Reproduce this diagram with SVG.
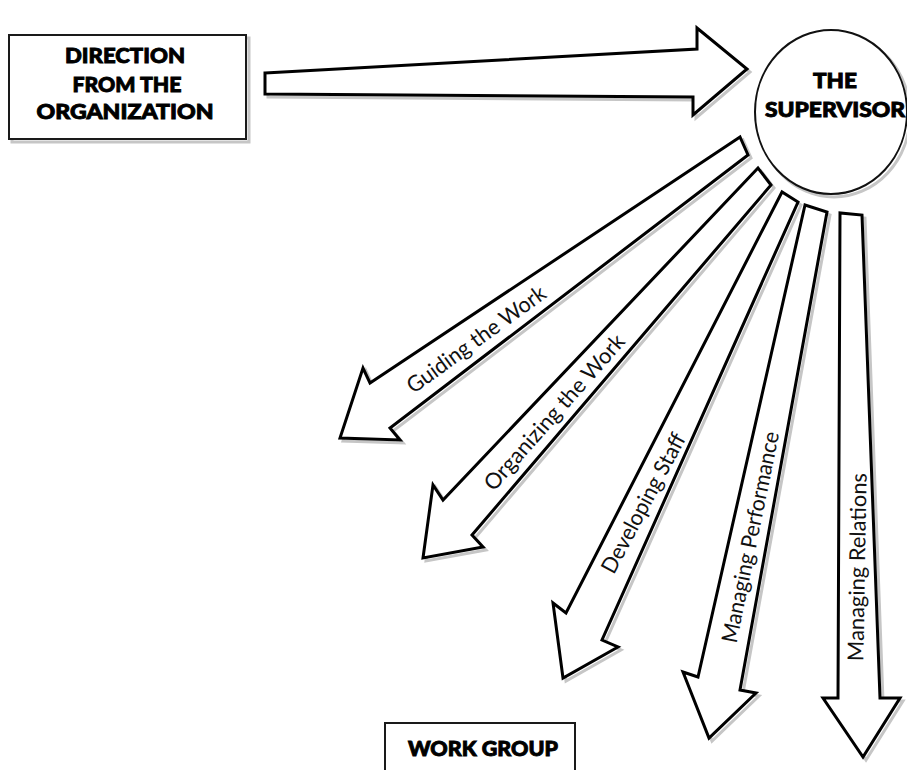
<svg xmlns="http://www.w3.org/2000/svg" xmlns:xlink="http://www.w3.org/1999/xlink" width="907" height="770" viewBox="0 0 907 770">
<style>
.bg{fill:#ffffff}
.box{fill:#ffffff;stroke:#1a1a1a;stroke-width:2}
.arr{fill:#ffffff;stroke:#000000;stroke-width:3;stroke-linejoin:miter}
.sh{fill:none;stroke:#c6c6c6;stroke-width:3}
.title{font-family:Lato,"Open Sans","DejaVu Sans",sans-serif;font-weight:900;font-size:21px;fill:#000;stroke:#000;stroke-width:0.9;text-anchor:middle}
.lbl{font-family:Lato,"Open Sans","DejaVu Sans",sans-serif;font-weight:400;font-size:22px;fill:#111;text-anchor:middle}
</style>
<rect class="bg" x="0" y="0" width="907" height="770"/>
<defs>
<polygon id="p0" points="265,73 697,49 697,28 747,69 693,115 693,97 265,94"/>
<polygon id="p1" points="740,137 370,383 363,368 340,438 400,440 390,428 748,155"/>
<polygon id="p2" points="758,168 443,500 433,485 423,558 483,547 472,535 771,185"/>
<polygon id="p3" points="782,192 566,613 553,603 563,678 618,647 602,640 798,202"/>
<polygon id="p4" points="805,205 698,677 683,672 709,738 756,693 740,690 827,212"/>
<polygon id="p5" points="840,213 838,698 823,698 863,757 900,698 880,698 862,215"/>
</defs>
<g id="shadows" transform="translate(3,3)">
<use href="#p0" xlink:href="#p0" class="sh"/>
<use href="#p1" xlink:href="#p1" class="sh"/>
<use href="#p2" xlink:href="#p2" class="sh"/>
<use href="#p3" xlink:href="#p3" class="sh"/>
<use href="#p4" xlink:href="#p4" class="sh"/>
<use href="#p5" xlink:href="#p5" class="sh"/>
<rect x="9" y="35" width="237" height="104" class="sh"/>
<ellipse cx="831" cy="112" rx="76" ry="82" class="sh"/>
</g>
<g id="connectors">
<g id="arrow-direction"><use href="#p0" xlink:href="#p0" class="arr"/></g>
<g id="arrow-guiding">
<use href="#p1" xlink:href="#p1" class="arr"/>
<g transform="translate(476,339) rotate(-36)"><text class="lbl" x="0" y="8" textLength="166" lengthAdjust="spacingAndGlyphs">Guiding the Work</text></g>
</g>
<g id="arrow-organizing">
<use href="#p2" xlink:href="#p2" class="arr"/>
<g transform="translate(554,412) rotate(-48.5)"><text class="lbl" x="0" y="8" textLength="200" lengthAdjust="spacingAndGlyphs">Organizing the Work</text></g>
</g>
<g id="arrow-developing">
<use href="#p3" xlink:href="#p3" class="arr"/>
<g transform="translate(643,503) rotate(-62)"><text class="lbl" x="0" y="8" textLength="155" lengthAdjust="spacingAndGlyphs">Developing Staff</text></g>
</g>
<g id="arrow-performance">
<use href="#p4" xlink:href="#p4" class="arr"/>
<g transform="translate(750,537) rotate(-78.5)"><text class="lbl" x="0" y="8" textLength="215" lengthAdjust="spacingAndGlyphs">Managing Performance</text></g>
</g>
<g id="arrow-relations">
<use href="#p5" xlink:href="#p5" class="arr"/>
<g transform="translate(857,567) rotate(-89)"><text class="lbl" x="0" y="8" textLength="188" lengthAdjust="spacingAndGlyphs">Managing Relations</text></g>
</g>
</g>
<g id="node-direction">
<rect class="box" x="9" y="35" width="237" height="104"/>
<text class="title" x="125" y="63" textLength="120" lengthAdjust="spacingAndGlyphs">DIRECTION</text>
<text class="title" x="127" y="92" textLength="109" lengthAdjust="spacingAndGlyphs">FROM THE</text>
<text class="title" x="125" y="119" textLength="177" lengthAdjust="spacingAndGlyphs">ORGANIZATION</text>
</g>
<g id="node-supervisor">
<ellipse cx="831" cy="112" rx="76" ry="82" fill="#ffffff" stroke="#111" stroke-width="2"/>
<text class="title" x="835" y="88" textLength="44" lengthAdjust="spacingAndGlyphs">THE</text>
<text class="title" x="835" y="117" textLength="140" lengthAdjust="spacingAndGlyphs">SUPERVISOR</text>
</g>
<g id="node-workgroup">
<rect class="box" x="385" y="723" width="190" height="60"/>
<text class="title" x="483" y="756" textLength="150" lengthAdjust="spacingAndGlyphs">WORK GROUP</text>
</g>
</svg>
